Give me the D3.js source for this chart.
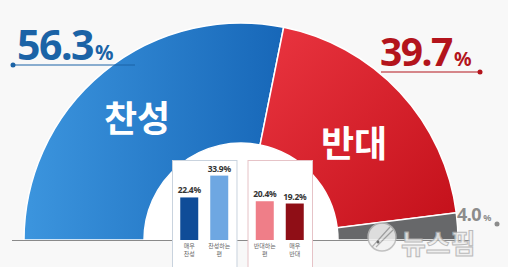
<!DOCTYPE html>
<meta charset="utf-8">
<script src="https://d3js.org/d3.v7.min.js"></script>
<style>
  body { margin: 0; background: #f8f8f8; }
  text { font-family: "Noto Sans CJK KR", "Noto Sans", sans-serif; }
  .num { font-family: "Noto Sans", "DejaVu Sans", sans-serif; }
</style>
<body>
<script>

// survey shares (half donut)
var sliceNames = ["찬성", "반대", "잘 모름"];
var sliceValues = [56.3, 39.7, 4.0];
var sliceColors = ["url(#blueGrad)", "url(#redGrad)", "#67686a"];

// detail bars
var barGroups = ["찬성", "반대"];
var barLabels = [["매우", "찬성"], ["찬성하는", "편"], ["반대하는", "편"], ["매우", "반대"]];
var barValues = [22.4, 33.9, 20.4, 19.2];
var barColors = ["#0f4c98", "#6ea7e2", "#ef7e88", "#8f0e16"];

var width = 508, height = 267;

var svg = d3.select("body").append("svg")
    .attr("width", width)
    .attr("height", height);

var defs = svg.append("defs");
var bg = defs.append("linearGradient").attr("id", "blueGrad")
    .attr("x1", "0").attr("x2", "1").attr("y1", "0").attr("y2", "0");
bg.append("stop").attr("offset", "0%").attr("stop-color", "#3c95de");
bg.append("stop").attr("offset", "100%").attr("stop-color", "#1767b8");
var rg = defs.append("linearGradient").attr("id", "redGrad")
    .attr("x1", "0").attr("x2", "1").attr("y1", "0").attr("y2", "1");
rg.append("stop").attr("offset", "0%").attr("stop-color", "#ea3540");
rg.append("stop").attr("offset", "100%").attr("stop-color", "#c3101a");

// half donut
var cx = 241, cy = 240, outerR = 217, innerR = 97;

var pie = d3.pie().sort(null)
    .startAngle(-Math.PI / 2)
    .endAngle(Math.PI / 2);
var arc = d3.arc().innerRadius(innerR).outerRadius(outerR);

var donut = svg.append("g").attr("transform", "translate(" + cx + "," + cy + ")");

donut.append("path")
    .attr("d", d3.arc().innerRadius(0).outerRadius(innerR)
        .startAngle(-Math.PI / 2).endAngle(Math.PI / 2)())
    .style("fill", "#ffffff");

donut.selectAll("path.slice")
    .data(pie(sliceValues))
    .enter().append("path")
    .attr("class", "slice")
    .attr("d", arc)
    .style("fill", function(d, i) { return sliceColors[i]; })
    .style("stroke", "#ffffff")
    .style("stroke-width", 1.5);

// baseline
svg.append("line")
    .attr("x1", 12).attr("x2", 470)
    .attr("y1", cy + 0.5).attr("y2", cy + 0.5)
    .style("stroke", "#8a8a8a");

// big words inside the arcs
svg.append("text").attr("x", 137).attr("y", 132)
    .attr("text-anchor", "middle")
    .style("font-size", "36px").style("font-weight", "bold")
    .style("fill", "#ffffff").text(sliceNames[0]);
svg.append("text").attr("x", 354).attr("y", 157)
    .attr("text-anchor", "middle")
    .style("font-size", "36px").style("font-weight", "bold")
    .style("fill", "#ffffff").text(sliceNames[1]);

// percent callouts
function callout(x, y, value, color, size, spacing, lineX1, lineX2, lineY, dotX) {
    var t = svg.append("text").attr("class", "num").attr("x", x).attr("y", y)
        .style("font-weight", "bold").style("fill", color);
    t.append("tspan").style("font-size", size + "px")
        .style("letter-spacing", spacing + "px").text(value.toFixed(1));
    t.append("tspan").style("font-size", (size * 0.5) + "px").attr("dx", 2).text("%");
    if (lineX1 != null) {
        svg.append("line")
            .attr("x1", lineX1).attr("x2", lineX2)
            .attr("y1", lineY).attr("y2", lineY)
            .style("stroke", color).style("stroke-width", 1);
    }
    svg.append("circle").attr("cx", dotX).attr("cy", lineY).attr("r", 2.5)
        .style("fill", color);
}
callout(17, 60, sliceValues[0], "#1b63a6", 41, -1.5, 13, 135, 65, 13);
callout(380, 66, sliceValues[1], "#b3141c", 39, -1.5, 381, 480, 72, 480);
callout(457, 221, sliceValues[2], "#8c8c8c", 18, -0.5, null, null, 224, 497);

// detail bars in two boxes
var groupX = d3.scaleBand().domain(barGroups).range([172, 312]).paddingInner(0.146);
var innerX = d3.scaleBand().domain([0, 1]).range([0, groupX.bandwidth()])
    .paddingInner(0.4).paddingOuter(0.275);
var y = d3.scaleLinear().domain([0, 100]).range([cy, cy - 190]);

var boxStroke = ["#c9d3de", "#e6c3c7"];
barGroups.forEach(function(g, gi) {
    svg.append("rect")
        .attr("x", groupX(g) + 0.5).attr("y", 160.5)
        .attr("width", groupX.bandwidth()).attr("height", 120)
        .style("fill", "#ffffff")
        .style("stroke", boxStroke[gi]);
});

function barX(i) {
    return groupX(barGroups[Math.floor(i / 2)]) + innerX(i % 2);
}

var bars = svg.append("g");
bars.selectAll("rect")
    .data(barValues)
    .enter().append("rect")
    .attr("x", function(d, i) { return barX(i); })
    .attr("y", function(d) { return y(d); })
    .attr("width", innerX.bandwidth())
    .attr("height", function(d) { return y(0) - y(d); })
    .style("fill", function(d, i) { return barColors[i]; });

bars.selectAll("text.val")
    .data(barValues)
    .enter().append("text")
    .attr("class", "val num")
    .attr("x", function(d, i) { return barX(i) + innerX.bandwidth() / 2; })
    .attr("y", function(d) { return y(d) - 4; })
    .attr("text-anchor", "middle")
    .style("font-size", "8.5px").style("font-weight", "bold")
    .style("letter-spacing", "-0.3px")
    .style("fill", "#333333")
    .text(function(d) { return d.toFixed(1) + "%"; });

// category names, two lines each
barLabels.forEach(function(lines, i) {
    lines.forEach(function(s, k) {
        svg.append("text")
            .attr("x", barX(i) + innerX.bandwidth() / 2)
            .attr("y", 248 + k * 8)
            .attr("text-anchor", "middle")
            .style("font-size", "6px")
            .style("fill", "#666666")
            .text(s);
    });
});

// watermark
var wm = svg.append("g").style("opacity", 0.85);
wm.append("circle").attr("cx", 382).attr("cy", 237).attr("r", 14)
    .style("fill", "#f2f2f2").style("stroke", "#b8b8b8").style("stroke-width", 1.5);
wm.append("path").attr("d", "M372,247 L390,227 M376,247 L393,230")
    .style("stroke", "#a8a8a8").style("stroke-width", 1.2);
wm.append("circle").attr("cx", 378).attr("cy", 242).attr("r", 1.5).style("fill", "#555");
wm.append("text").attr("x", 401).attr("y", 254)
    .style("font-size", "27px").style("font-weight", "bold")
    .style("fill", "#eeeeee").style("stroke", "#b0b0b0").style("stroke-width", 1)
    .text("뉴스핌");

</script>
</body>
